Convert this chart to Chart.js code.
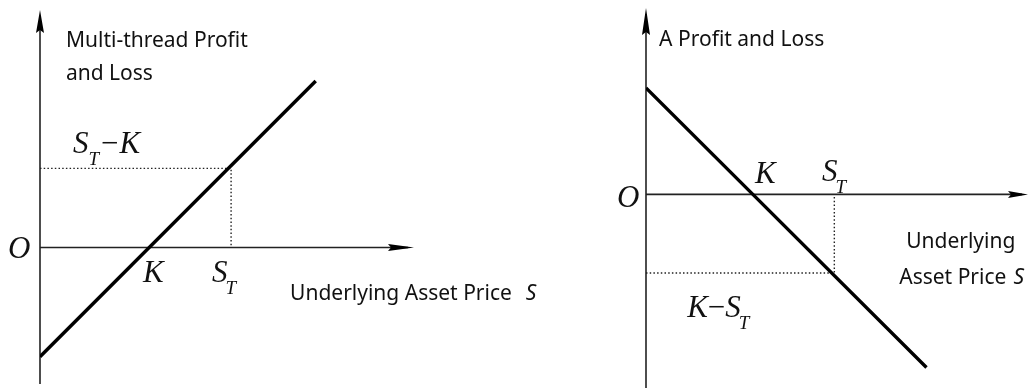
<!DOCTYPE html>
<html>
<head>
<meta charset="utf-8">
<script src="https://cdn.jsdelivr.net/npm/chart.js@4.4.1/dist/chart.umd.min.js"></script>
<style>
html, body { margin: 0; padding: 0; background: #fff; }
#wrap { position: relative; width: 1028px; height: 388px; }
.caja { position: absolute; top: 0; height: 388px; }
#cajaCall { left: 0; width: 560px; }
#cajaPut { left: 560px; width: 468px; }
</style>
</head>
<body>
<div id="wrap">
  <div class="caja" id="cajaCall"><canvas id="chartCall"></canvas></div>
  <div class="caja" id="cajaPut"><canvas id="chartPut"></canvas></div>
</div>
<script>
// datos (unidades arbitrarias: K = 4, S_T = 7)
const strike = 4;
const spotT = 7;

const callPrices = [0, 4, 10.1];
const callPayoff = [-4, 0, 6.1];
const putPrices = [0, 4, 10.5];
const putPayoff = [4, 0, -6.5];

const callGuideX = [0, 7, 7];
const callGuideY = [2.9, 2.9, 0];
const putGuideX = [0, 7.05, 7.05];
const putGuideY = [-2.95, -2.95, 0];

const SANS = '"Noto Sans", "Open Sans", sans-serif';
const SERIF = '"Liberation Serif", "DejaVu Serif", serif';

function puntos(xs, ys) {
    return xs.map((v, i) => ({x: v, y: ys[i]}));
}

// dibuja S_T, K, etc. con subindice (x,y = izquierda / linea base)
function dibujarMath(ctx, partes, x, y) {
    let cx = x;
    ctx.textBaseline = 'alphabetic';
    ctx.textAlign = 'left';
    for (const p of partes) {
        ctx.font = (p.normal ? '' : 'italic ') + '31px ' + SERIF;
        ctx.fillText(p.t, cx, y);
        cx += ctx.measureText(p.t).width + (p.gap || 0);
        if (p.sub) {
            ctx.font = 'italic 19px ' + SERIF;
            ctx.fillText(p.sub, cx - 2, y + 12);
            cx += ctx.measureText(p.sub).width;
        }
    }
}

const ejesPlugin = {
    id: 'ejes',
    beforeDatasetsDraw(chart, args, opts) {
        const {ctx, chartArea: a, scales: {x, y}} = chart;
        const x0 = x.getPixelForValue(0);
        const y0 = y.getPixelForValue(0);
        ctx.save();
        ctx.strokeStyle = '#222';
        ctx.lineWidth = 1.6;
        ctx.beginPath();
        ctx.moveTo(x0, a.bottom);
        ctx.lineTo(x0, a.top + 6);
        ctx.moveTo(x0, y0);
        ctx.lineTo(a.right - 6, y0);
        ctx.stroke();

        ctx.fillStyle = '#000';
        // flecha arriba
        const la = opts.flechaY;
        ctx.beginPath();
        ctx.moveTo(x0, a.top);
        ctx.lineTo(x0 + 4, a.top + la);
        ctx.lineTo(x0, a.top + la - 3);
        ctx.lineTo(x0 - 4, a.top + la);
        ctx.closePath();
        ctx.fill();
        // flecha derecha
        const lb = opts.flechaX;
        ctx.beginPath();
        ctx.moveTo(a.right, y0);
        ctx.lineTo(a.right - lb, y0 + 3.5);
        ctx.lineTo(a.right - lb + 3, y0);
        ctx.lineTo(a.right - lb, y0 - 3.5);
        ctx.closePath();
        ctx.fill();
        ctx.restore();
    },
    afterDraw(chart, args, opts) {
        const {ctx, scales: {x, y}} = chart;
        ctx.save();
        ctx.fillStyle = '#111';
        for (const t of opts.textos) {
            const px = x.getPixelForValue(t.x);
            const py = y.getPixelForValue(t.y);
            if (t.math) {
                dibujarMath(ctx, t.math, px, py);
            } else {
                ctx.font = '21px ' + SANS;
                ctx.textBaseline = 'alphabetic';
                ctx.textAlign = 'left';
                ctx.fillText(t.t, px, py);
                if (t.italS) {
                    const w = ctx.measureText(t.t).width;
                    ctx.font = 'italic 21px ' + SANS;
                    ctx.fillText('S', px + w + t.italS, py);
                }
            }
        }
        ctx.restore();
    }
};

function generarGrafica(idCanvas, precios, pagos, guiaX, guiaY, ejeX, ejeY, padding, flechas, textos) {
    const data = {
        datasets: [
            {
                data: puntos(precios, pagos),
                borderColor: '#000',
                borderWidth: 3.4,
                pointRadius: 0,
                tension: 0
            },
            {
                data: puntos(guiaX, guiaY),
                borderColor: '#222',
                borderWidth: 1.4,
                borderDash: [1.5, 2.2],
                pointRadius: 0,
                tension: 0
            }
        ]
    };

    const config = {
        type: 'line',
        data: data,
        options: {
            responsive: true,
            maintainAspectRatio: false,
            animation: false,
            layout: {padding: padding},
            plugins: {
                legend: {display: false},
                tooltip: {enabled: false},
                ejes: {flechaX: flechas[0], flechaY: flechas[1], textos: textos}
            },
            scales: {
                x: {type: 'linear', display: false, min: ejeX[0], max: ejeX[1]},
                y: {type: 'linear', display: false, min: ejeY[0], max: ejeY[1]}
            }
        },
        plugins: [ejesPlugin]
    };

    return new Chart(document.getElementById(idCanvas), config);
}

// Opcion de compra (izquierda)
generarGrafica('chartCall', callPrices, callPayoff, callGuideX, callGuideY,
    [0, 13.7], [-5.0, 8.7],
    {left: 40, right: 146, top: 10, bottom: 4},
    [26, 23],
    [
        {t: 'Multi-thread Profit', x: 0.95, y: 7.36},
        {t: 'and Loss', x: 0.95, y: 6.12},
        {t: 'Underlying Asset Price', x: 9.16, y: -1.94, italS: 14},
        {x: -1.17, y: -0.40, math: [{t: 'O'}]},
        {x: 3.77, y: -1.28, math: [{t: 'K'}]},
        {x: 6.30, y: -1.28, math: [{t: 'S', sub: 'T'}]},
        {x: 1.21, y: 3.48, math: [{t: 'S', sub: 'T', gap: 2}, {t: '−', normal: true, gap: 1}, {t: 'K'}]}
    ]);

// Opcion de venta (derecha)
generarGrafica('chartPut', putPrices, putPayoff, putGuideX, putGuideY,
    [0, 14.3], [-7.27, 7.0],
    {left: 86, right: 0, top: 8, bottom: 0},
    [20, 27],
    [
        {t: 'A Profit and Loss', x: 0.49, y: 5.58},
        {t: 'Underlying', x: 9.74, y: -2.02},
        {t: 'Asset Price', x: 9.48, y: -3.37, italS: 7},
        {x: -1.09, y: -0.49, math: [{t: 'O'}]},
        {x: 4.08, y: 0.41, math: [{t: 'K'}]},
        {x: 6.59, y: 0.52, math: [{t: 'S', sub: 'T'}]},
        {x: 1.54, y: -4.61, math: [{t: 'K'}, {t: '−', normal: true}, {t: 'S', sub: 'T'}]}
    ]);
</script>
</body>
</html>
